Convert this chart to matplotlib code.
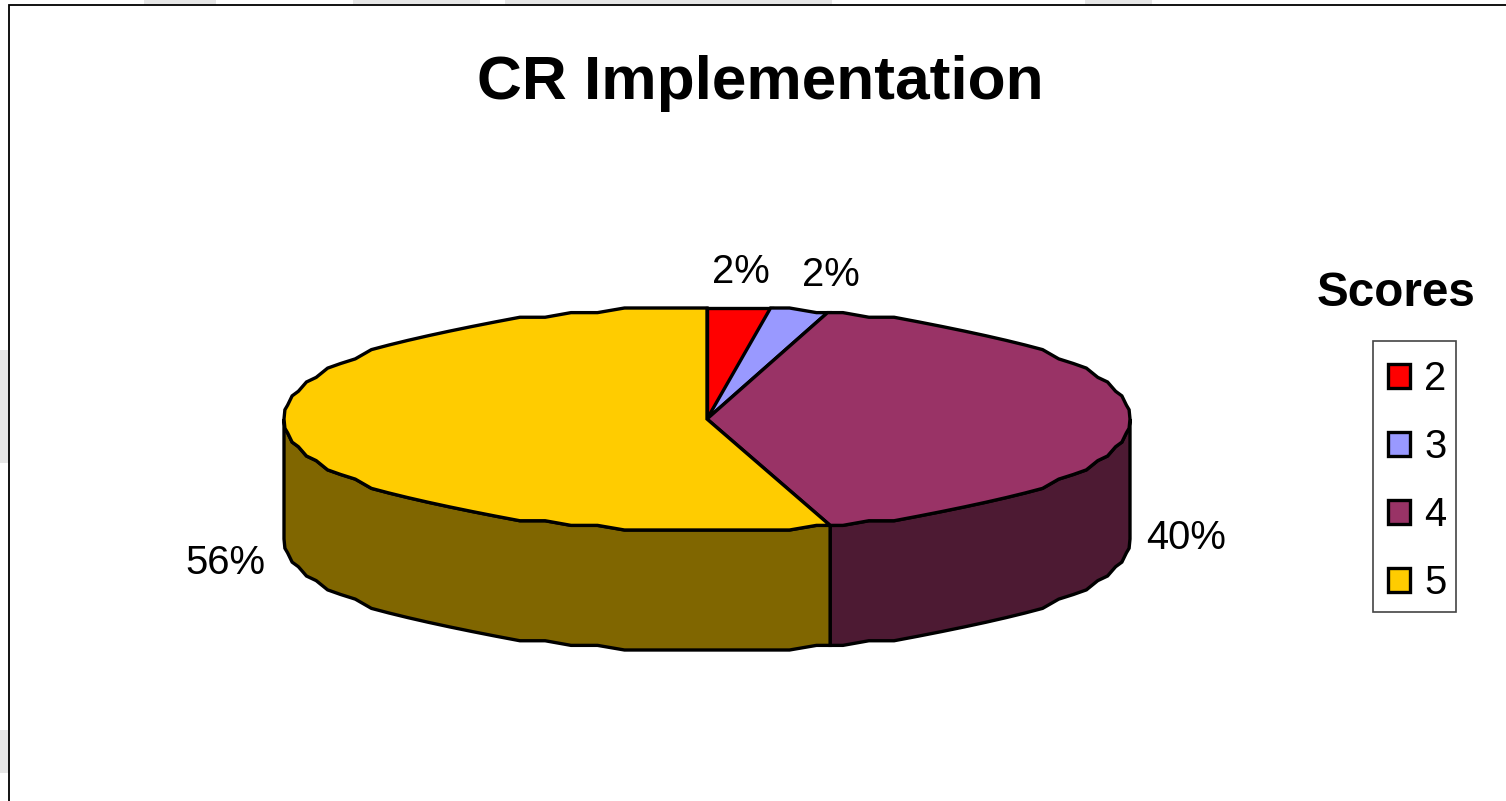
import numpy as np
import matplotlib
matplotlib.use('Agg')
import matplotlib.pyplot as plt
from matplotlib.patches import Rectangle

plt.rcParams['font.family'] = ['Liberation Sans', 'DejaVu Sans']

scores = ['2', '3', '4', '5']
values = [2.4, 2.2, 40.7, 54.7]
pct_labels = ['2%', '2%', '40%', '56%']
top_colors = ['#FF0000', '#9999FF', '#993366', '#FFCC00']
side_colors = ['#800000', '#4D4D80', '#4D1A33', '#806600']

W, H = 1506, 801
cx, cy = 707, 419
rx, ry = 423, 111
depth = 120 / ry
LW = 2.4


def to_x(p):
    return (p - cx) / rx


def to_y(p):
    return (cy - p) / ry


def rim(a, b):
    # the reference outline is stepped, so snap the height to a coarse grid
    grid = np.arange(0, 2 * np.pi, np.radians(3.75))
    t = np.r_[a, grid[(grid > a) & (grid < b)], b]
    return np.sin(t), np.round(np.cos(t) * 24) / 24


def px_rect(x0, y0, x1, y1, **kw):
    ax.add_patch(Rectangle((to_x(x0), to_y(y1)), to_x(x1) - to_x(x0), to_y(y0) - to_y(y1), **kw))


fig = plt.figure(figsize=(W / 100, H / 100), dpi=100, facecolor='white')
ax = fig.add_axes([0, 0, 1, 1])

# faint slide artwork showing around the chart area
for box in [(144, 0, 216, 5), (353, 0, 480, 5), (505, 0, 832, 5), (1085, 0, 1152, 5),
            (0, 350, 9, 463), (0, 730, 9, 773)]:
    px_rect(*box, facecolor='#E6E6E6', edgecolor='none', zorder=0)

# chart area border, runs off the right and bottom of the picture
px_rect(9, 5, W + 20, H + 20, facecolor='white', edgecolor='black', linewidth=1.3, zorder=1)

edges = np.cumsum([0] + values) / sum(values) * 2 * np.pi

# rim of the disc, only the part facing the viewer (clockwise from 12 o'clock)
for i in range(len(values)):
    a = max(edges[i], np.pi / 2)
    b = min(edges[i + 1], 3 * np.pi / 2)
    if b <= a:
        continue
    xs, ys = rim(a, b)
    ax.fill(np.r_[xs, xs[::-1]], np.r_[ys, ys[::-1] - depth],
            facecolor=side_colors[i], edgecolor='black', linewidth=LW, zorder=2)

# top face
handles = []
for i in range(len(values)):
    xs, ys = rim(edges[i], edges[i + 1])
    poly = ax.fill(np.r_[0, xs], np.r_[0, ys], facecolor=top_colors[i], edgecolor='black',
                   linewidth=LW, zorder=3)
    handles.append(poly[0])

ax.set_xlim(to_x(0), to_x(W))
ax.set_ylim(to_y(H), to_y(0))
ax.axis('off')

pct_pos = [(741, 272), (831, 275), (1186, 538), (225, 563)]
for lab, (px, py) in zip(pct_labels, pct_pos):
    ax.text(to_x(px), to_y(py), lab, fontsize=28.8, ha='center', va='center', zorder=5)

ax.text(to_x(760), to_y(83), 'CR Implementation', fontsize=44.8, fontweight='bold',
        ha='center', va='center', zorder=5)
ax.text(to_x(1396), to_y(294), 'Scores', fontsize=34.3, fontweight='bold',
        ha='center', va='center', zorder=5)

# legend frame is narrower than the padding matplotlib would give it
px_rect(1373, 341, 1456, 612, facecolor='white', edgecolor='#444444', linewidth=1.2, zorder=4)
leg = ax.legend(handles, scores, loc='upper left', bbox_to_anchor=(1388 / W, 1 - 360 / H),
                fontsize=28.8, frameon=False, handlelength=0.55, handleheight=0.55,
                handletextpad=0.35, labelspacing=0.75, borderpad=0, borderaxespad=0)
leg.set_zorder(6)

fig.savefig('out.png', dpi=100)
